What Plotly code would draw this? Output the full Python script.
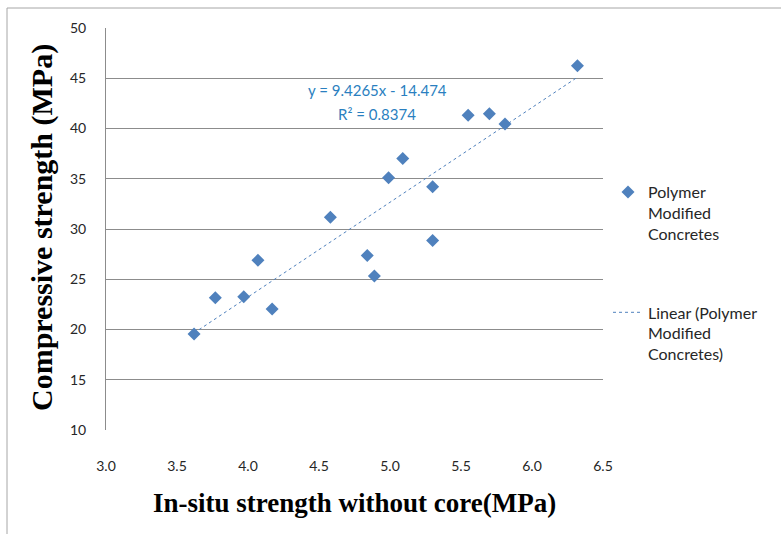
import plotly.graph_objects as go
import numpy as np

# Data
insitu_strength = [6.32, 5.55, 5.70, 5.81, 5.09, 4.99, 5.30, 4.58, 5.30, 4.84, 4.89, 4.07, 3.77, 3.97, 4.17, 3.62]
compressive_strength = [46.25, 41.33, 41.47, 40.44, 37.02, 35.09, 34.20, 31.18, 28.85, 27.36, 25.33, 26.89, 23.17, 23.27, 22.05, 19.55]

# Trendline from the chart's equation
slope = 9.4265
intercept = -14.474
r_squared = 0.8374

x_ticks = [3.0, 3.5, 4.0, 4.5, 5.0, 5.5, 6.0, 6.5]
y_ticks = [10, 15, 20, 25, 30, 35, 40, 45, 50]

series_name = "Polymer<br>Modified<br>Concretes"
trend_name = "Linear (Polymer<br>Modified<br>Concretes)"

blue = "#4F81BD"
tick_font = dict(family="Lato, Liberation Sans", size=14, color="#262626")

x_line = np.array([min(insitu_strength), max(insitu_strength)])
y_line = slope * x_line + intercept

fig = go.Figure()
fig.add_trace(go.Scatter(
    x=insitu_strength, y=compressive_strength, mode="markers", name=series_name,
    legendgroup="a",
    marker=dict(symbol="diamond", size=10, color=blue, line=dict(width=0)),
))
fig.add_trace(go.Scatter(
    x=x_line, y=y_line, mode="lines", name=trend_name, legendgroup="b",
    line=dict(color=blue, width=1, dash="dot"),
))

L, R, T, B = 106, 178, 28, 104
W, H = 781, 534
pw = W - L - R
ph = H - T - B

def px(xp):
    return (xp - L) / pw

def py(yp):
    return (H - B - yp) / ph

fig.update_layout(
    width=W, height=H,
    margin=dict(l=L, r=R, t=T, b=B),
    paper_bgcolor="white", plot_bgcolor="white",
    xaxis=dict(range=[3.0, 6.5], tickvals=x_ticks, ticktext=[f"{v:.1f}" for v in x_ticks],
               showgrid=False, zeroline=False, showline=False, ticks="",
               tickfont=tick_font, ticklabelstandoff=26),
    yaxis=dict(range=[10, 50], tickvals=y_ticks, showgrid=True, gridcolor="#8C8C8C",
               gridwidth=1, zeroline=False, showline=True, linecolor="#8C8C8C",
               linewidth=1, ticks="", tickfont=tick_font, ticklabelstandoff=16),
    legend=dict(x=px(608), y=py(175), xanchor="left", yanchor="top",
                font=dict(family="Lato, Liberation Sans", size=16, color="#262626"),
                valign="top", traceorder="grouped", tracegroupgap=55,
                bgcolor="rgba(0,0,0,0)"),
    showlegend=True,
)

eq_font = dict(family="Lato, Liberation Sans", size=15, color="#2A7FC0")
fig.add_annotation(text="y = 9.4265x - 14.474", x=px(377), y=py(90), xref="paper", yref="paper",
                   xanchor="center", yanchor="middle", showarrow=False, font=eq_font)
fig.add_annotation(text="R² = 0.8374", x=px(377), y=py(114), xref="paper", yref="paper",
                   xanchor="center", yanchor="middle", showarrow=False, font=eq_font)

fig.add_annotation(text="<b>Compressive strength (MPa)</b>", x=px(42), y=py(228), xref="paper", yref="paper",
                   xanchor="center", yanchor="middle", showarrow=False, textangle=-90,
                   font=dict(family="Liberation Serif", size=30, color="black"))
fig.add_annotation(text="<b>In-situ strength without core(MPa)</b>", x=px(354), y=py(503), xref="paper", yref="paper",
                   xanchor="center", yanchor="middle", showarrow=False,
                   font=dict(family="Liberation Serif", size=27, color="black"))

# chart-area frame
fig.add_shape(type="rect", xref="paper", yref="paper",
              x0=px(7), x1=px(800), y0=py(560), y1=py(8),
              line=dict(color="#A6A6A6", width=1), fillcolor="rgba(0,0,0,0)", layer="below")

fig.write_html("out.html")
